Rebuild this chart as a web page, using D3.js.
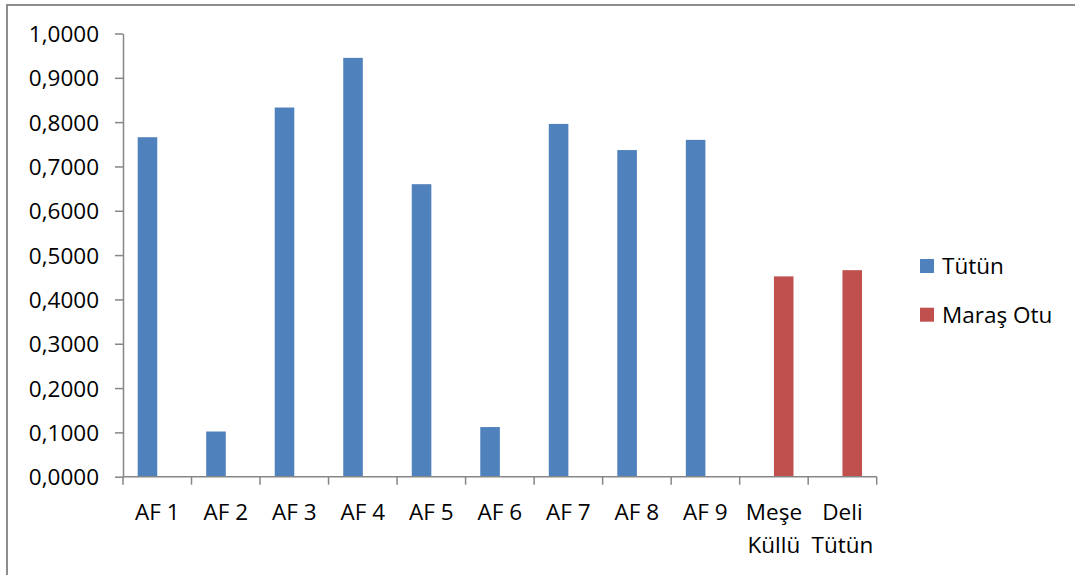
<!DOCTYPE html>
<html>
<head>
<meta charset="utf-8">
<script src="https://cdn.jsdelivr.net/npm/d3@7"></script>
<style>
  body { margin: 0; background: #fff; }
  svg { display: block; }
  text { font-family: "Open Sans", "Liberation Sans", sans-serif; fill: #000; }
</style>
</head>
<body>
<svg id="chart" width="1075" height="575"></svg>
<script>
const categories = ["AF 1", "AF 2", "AF 3", "AF 4", "AF 5", "AF 6", "AF 7", "AF 8", "AF 9", "Meşe Küllü", "Deli Tütün"];
const seriesNames = ["Tütün", "Maraş Otu"];
const tutunValues = [0.766, 0.102, 0.833, 0.945, 0.660, 0.112, 0.796, 0.737, 0.760, null, null];
const marasOtuValues = [null, null, null, null, null, null, null, null, null, 0.452, 0.466];
const yTicks = [0, 0.1, 0.2, 0.3, 0.4, 0.5, 0.6, 0.7, 0.8, 0.9, 1.0];
const colors = ["#4F81BD", "#C0504D"];

const svg = d3.select("#chart");
const margin = { left: 123, right: 876.7, top: 33.5, bottom: 476.7 };
const fs = "22.5px";

// outer chart border
svg.append("rect").attr("x", 7).attr("y", 5).attr("width", 1080).attr("height", 600)
  .attr("fill", "none").attr("stroke", "#8c8c8c").attr("stroke-width", 2);

const x = d3.scaleBand().domain(categories).range([margin.left, margin.right]).paddingInner(0).paddingOuter(0);
const bw = x.bandwidth();
const x1 = d3.scaleBand().domain(seriesNames).range([bw * 0.75 / 3.5, bw * 2.75 / 3.5]);
const y = d3.scaleLinear().domain([0, 1]).range([margin.bottom, margin.top]);

const fmt = d => d3.format(".4f")(d).replace(".", ",");

// y axis
const yAxis = svg.append("g").attr("transform", `translate(${margin.left},0)`)
  .call(d3.axisLeft(y).tickValues(yTicks).tickFormat(fmt).tickSize(8).tickSizeOuter(0).tickPadding(16));
yAxis.select(".domain").attr("stroke", "#868686").attr("stroke-width", 1.5);
yAxis.selectAll(".tick line").attr("stroke", "#868686").attr("stroke-width", 1.5);
yAxis.selectAll(".tick text").style("font-size", fs).attr("dy", "0.36em");

// bars
const series = [tutunValues, marasOtuValues];
series.forEach((vals, si) => {
  svg.append("g").selectAll("rect")
    .data(categories.map((c, i) => ({ c, v: vals[i] })).filter(d => d.v != null))
    .join("rect")
    .attr("x", d => x(d.c) + x1(seriesNames[si]))
    .attr("width", x1.bandwidth())
    .attr("y", d => y(d.v))
    .attr("height", d => y(0) - y(d.v))
    .attr("fill", colors[si]);
});

// x axis
const xAxisG = svg.append("g").attr("transform", `translate(0,${margin.bottom})`);
xAxisG.append("line").attr("x1", margin.left).attr("x2", margin.right)
  .attr("stroke", "#868686").attr("stroke-width", 1.5);
const edges = categories.map(c => x(c)).concat([margin.right]);
xAxisG.selectAll("line.tick").data(edges).join("line").attr("class", "tick")
  .attr("x1", d => d).attr("x2", d => d).attr("y1", 0).attr("y2", 8)
  .attr("stroke", "#868686").attr("stroke-width", 1.5);
categories.forEach(c => {
  const lines = c.startsWith("AF") ? [c] : c.split(" ");
  const t = xAxisG.append("text").attr("text-anchor", "middle").style("font-size", fs);
  lines.forEach((l, i) => {
    t.append("tspan").attr("x", x(c) + bw / 2).attr("y", 43 + i * 33).text(l);
  });
});

// legend
const legend = svg.append("g");
seriesNames.forEach((s, i) => {
  const g = legend.append("g").attr("transform", `translate(920,${259 + i * 48.7})`);
  g.append("rect").attr("width", 14).attr("height", 14).attr("fill", colors[i]);
  g.append("text").attr("x", 22).attr("y", 15).style("font-size", fs).text(s);
});
</script>
</body>
</html>
